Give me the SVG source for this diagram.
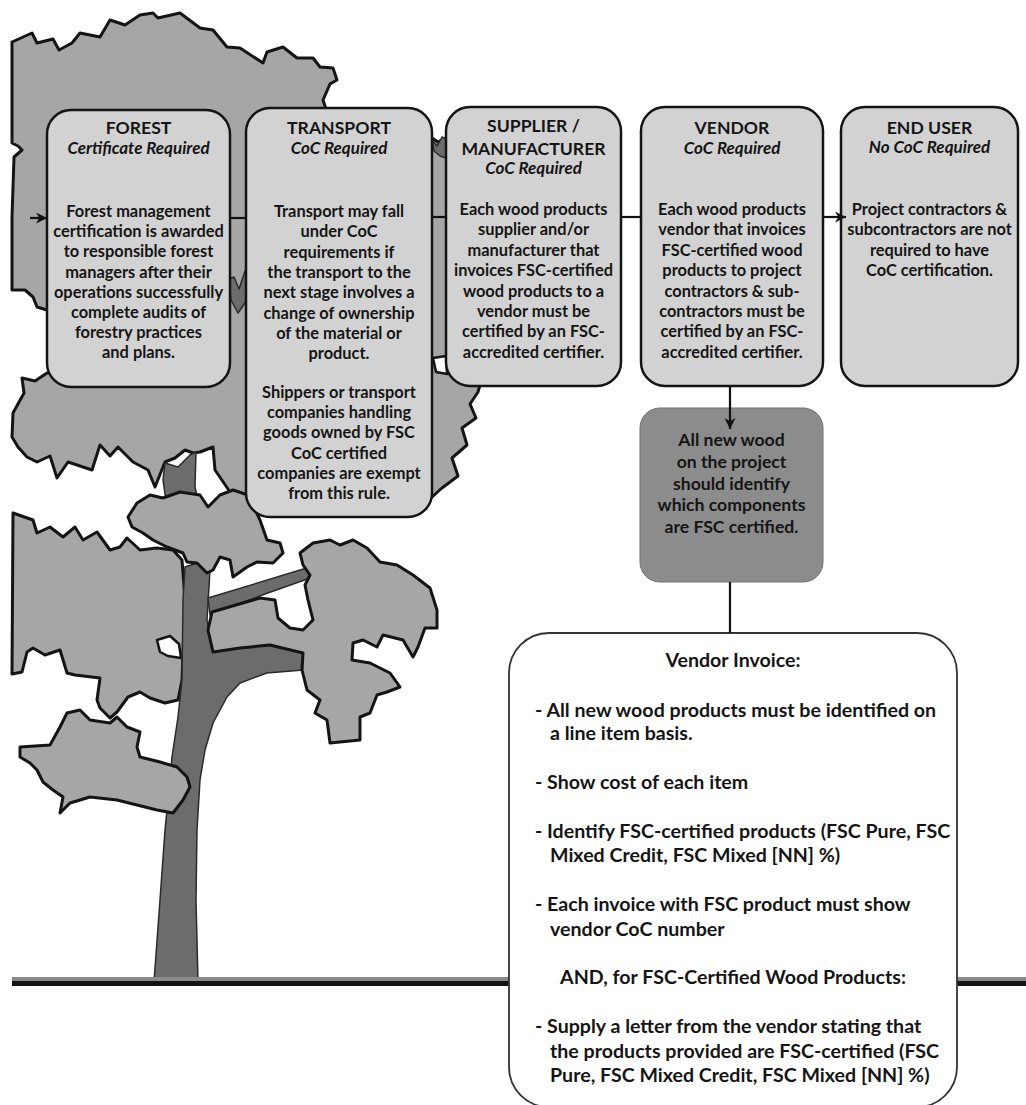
<svg xmlns="http://www.w3.org/2000/svg" width="1026" height="1105" viewBox="0 0 1026 1105">
  <defs>
    <style>
      .crown{fill:#a6a6a6;stroke:#141414;stroke-width:3;stroke-linejoin:round}
      .wood{fill:#6c6c6c;stroke:#2a2a2a;stroke-width:1.5;stroke-linejoin:round}
      .hole{fill:#fff;stroke:#141414;stroke-width:2.5;stroke-linejoin:round}
      .card{fill:#d2d2d2;stroke:#141414;stroke-width:2.5}
      .note{fill:#8c8c8c;stroke:#707070;stroke-width:1}
      .invoice{fill:#fff;stroke:#333;stroke-width:1.8}
      .conn{stroke:#111;stroke-width:2.2;fill:none}
      text{font-family:Lato,"Liberation Sans",sans-serif;font-weight:700;fill:#151515}
      .c{text-anchor:middle}
      .ttl{font-size:17.6px}
      .sub{font-size:17px;font-style:italic}
      .bd{font-size:16.4px}
      .gb{font-size:17.6px}
      .inv{font-size:19.6px}
    </style>
    <marker id="head" viewBox="0 0 10 10" refX="10" refY="5" markerWidth="11" markerHeight="11" markerUnits="userSpaceOnUse" orient="auto">
      <path d="M0,0 L10,5 L0,10 L3,5 z" fill="#111"/>
    </marker>
  </defs>

  <!-- tree scenery -->
  <g id="tree">
    <!-- upper crown -->
    <polygon class="crown" points="12,42 32,33 37,43 53,39 59,50 72,43 80,33 100,37 110,20 125,25 140,15 153,13 158,18 180,13 200,28 213,30 227,47 240,48 263,63 267,52 283,47 297,58 313,58 320,67 333,68 337,80 330,84 323,100 327,112 400,130 432,138 438,142 446,138 480,150 520,200 500,300 480,385 478,392 470,404 476,418 462,428 467,445 452,458 458,476 442,488 432,497 380,505 300,508 246,500 230,492 215,470 213,447 200,452 193,453 185,450 175,458 165,462 155,487 148,470 133,462 118,447 110,456 100,445 92,470 80,466 68,462 57,478 50,456 37,462 27,457 18,447 12,437 13,413 24,393 22,378 35,381 47,373 60,372 60,312 47,310 37,307 33,297 25,290 12,290 12,217 14,157 22,150 18,146 12,143"/>
    <polygon class="hole" points="433,358 446,356 447,374 436,372"/>
    <!-- branch fragments inside crown -->
    <polygon class="wood" points="229,279 234,277 239,289 245,271 248,276 247,300 238,313 231,300"/>
    <polygon class="wood" points="432,140 437,146 442,137 447,139 446,158 440,156 434,151"/>
    <polygon class="wood" points="165,463 178,467 190,455 196,452 195,487 200,510 187,507 167,508 163,480"/>
    <!-- left foliage -->
    <polygon class="crown" points="13,513 33,520 37,533 50,527 63,537 75,527 83,540 97,532 110,550 120,547 127,538 140,550 157,548 173,550 182,560 185,600 182,680 178,700 165,703 150,698 140,692 128,697 117,712 110,718 100,708 97,700 100,678 75,675 67,673 60,650 45,655 33,648 27,652 22,672 12,674"/>
    <polygon class="hole" points="157,640 170,636 179,644 181,658 168,656 160,652"/>
    <!-- trunk and limbs -->
    <polygon class="wood" points="154,982 160,900 165,830 168,800 172,757 178,717 182,680 183,600 185,567 200,562 210,570 207,620 213,652 240,647 270,643 303,653 303,670 267,673 240,683 227,697 213,723 205,750 200,780 197,830 196,900 198,982"/>
    <polygon class="wood" points="208,598 310,567 313,577 265,594 210,615"/>
    <!-- lower-left foliage -->
    <polygon class="crown" points="20,747 50,745 60,727 67,713 80,710 90,720 110,723 117,717 127,727 140,732 137,747 140,757 160,762 177,767 187,777 190,787 183,800 173,813 157,810 117,800 90,797 70,803 60,813 63,797 53,790 43,782 37,770 30,763 20,757"/>
    <!-- middle foliage -->
    <polygon class="crown" points="128,517 137,503 150,495 163,498 180,492 200,495 208,507 220,495 233,490 248,495 260,520 267,540 280,543 283,553 273,563 257,562 247,567 233,577 230,560 220,557 213,570 207,573 197,563 187,562 183,553 167,547 153,540 143,533 132,527"/>
    <!-- right foliage -->
    <polygon class="crown" points="300,553 313,543 330,540 340,545 353,540 367,548 380,562 397,565 413,575 430,588 437,610 437,628 425,628 418,647 413,657 403,640 383,635 377,647 363,640 353,643 352,660 370,663 390,673 400,687 387,692 377,695 370,713 360,717 360,740 330,743 327,720 315,713 320,700 307,690 302,670 303,653 270,645 240,648 213,652 208,630 212,612 260,598 275,600 278,618 290,628 303,630 313,620 308,600 305,585 310,575 303,565"/>
    <!-- ground -->
    <rect x="12" y="977" width="1014" height="4" fill="#8a8a8a"/>
    <rect x="12" y="981" width="1014" height="5" fill="#141414"/>
  </g>

  <!-- stage cards -->
  <g id="forest">
    <rect class="card" x="47" y="110" width="183" height="277" rx="24"/>
    <text class="c ttl" x="138.5" y="134">FOREST</text>
    <text class="c sub" x="138.5" y="154">Certificate Required</text>
    <text class="c bd" x="138.5" y="217">Forest management</text>
    <text class="c bd" x="138.5" y="237.2">certification is awarded</text>
    <text class="c bd" x="138.5" y="257.4">to responsible forest</text>
    <text class="c bd" x="138.5" y="277.6">managers after their</text>
    <text class="c bd" x="138.5" y="297.8">operations successfully</text>
    <text class="c bd" x="138.5" y="318">complete audits of</text>
    <text class="c bd" x="138.5" y="338.2">forestry practices</text>
    <text class="c bd" x="138.5" y="358.4">and plans.</text>
  </g>

  <g id="transport">
    <rect class="card" x="246" y="108" width="186" height="409" rx="24"/>
    <text class="c ttl" x="339" y="134">TRANSPORT</text>
    <text class="c sub" x="339" y="154">CoC Required</text>
    <text class="c bd" x="339" y="217">Transport may fall</text>
    <text class="c bd" x="339" y="237.3">under CoC</text>
    <text class="c bd" x="339" y="257.6">requirements if</text>
    <text class="c bd" x="339" y="277.9">the transport to the</text>
    <text class="c bd" x="339" y="298.2">next stage involves a</text>
    <text class="c bd" x="339" y="318.5">change of ownership</text>
    <text class="c bd" x="339" y="338.8">of the material or</text>
    <text class="c bd" x="339" y="359.1">product.</text>
    <text class="c bd" x="339" y="398">Shippers or transport</text>
    <text class="c bd" x="339" y="418.2">companies handling</text>
    <text class="c bd" x="339" y="438.4">goods owned by FSC</text>
    <text class="c bd" x="339" y="458.6">CoC certified</text>
    <text class="c bd" x="339" y="478.8">companies are exempt</text>
    <text class="c bd" x="339" y="499">from this rule.</text>
  </g>

  <g id="supplier">
    <rect class="card" x="446" y="107" width="175" height="279" rx="24"/>
    <text class="c ttl" x="533.5" y="132">SUPPLIER /</text>
    <text class="c ttl" x="533.5" y="155">MANUFACTURER</text>
    <text class="c sub" x="533.5" y="174">CoC Required</text>
    <text class="c bd" x="533.5" y="215">Each wood products</text>
    <text class="c bd" x="533.5" y="235.4">supplier and/or</text>
    <text class="c bd" x="533.5" y="255.8">manufacturer that</text>
    <text class="c bd" x="533.5" y="276.2">invoices FSC-certified</text>
    <text class="c bd" x="533.5" y="296.6">wood products to a</text>
    <text class="c bd" x="533.5" y="317">vendor must be</text>
    <text class="c bd" x="533.5" y="337.4">certified by an FSC-</text>
    <text class="c bd" x="533.5" y="357.8">accredited certifier.</text>
  </g>

  <g id="vendor">
    <rect class="card" x="641" y="107" width="182" height="279" rx="24"/>
    <text class="c ttl" x="732" y="134">VENDOR</text>
    <text class="c sub" x="732" y="154">CoC Required</text>
    <text class="c bd" x="732" y="215">Each wood products</text>
    <text class="c bd" x="732" y="235.4">vendor that invoices</text>
    <text class="c bd" x="732" y="255.8">FSC-certified wood</text>
    <text class="c bd" x="732" y="276.2">products to project</text>
    <text class="c bd" x="732" y="296.6">contractors &amp; sub-</text>
    <text class="c bd" x="732" y="317">contractors must be</text>
    <text class="c bd" x="732" y="337.4">certified by an FSC-</text>
    <text class="c bd" x="732" y="357.8">accredited certifier.</text>
  </g>

  <g id="end-user">
    <rect class="card" x="841" y="107" width="177" height="279" rx="24"/>
    <text class="c ttl" x="929.5" y="134">END USER</text>
    <text class="c sub" x="929.5" y="153">No CoC Required</text>
    <text class="c bd" x="929.5" y="215">Project contractors &amp;</text>
    <text class="c bd" x="929.5" y="235.4">subcontractors are not</text>
    <text class="c bd" x="929.5" y="255.8">required to have</text>
    <text class="c bd" x="929.5" y="276.2">CoC certification.</text>
  </g>

  <g id="identify-note">
    <rect class="note" x="640" y="408" width="183" height="174" rx="20"/>
    <text class="c gb" x="731.5" y="446">All new wood</text>
    <text class="c gb" x="731.5" y="467.8">on the project</text>
    <text class="c gb" x="731.5" y="489.6">should identify</text>
    <text class="c gb" x="731.5" y="511.4">which components</text>
    <text class="c gb" x="731.5" y="533.2">are FSC certified.</text>
  </g>

  <g id="vendor-invoice">
    <rect class="invoice" x="509" y="633" width="448" height="474" rx="40"/>
    <text class="c inv" x="733" y="667">Vendor Invoice:</text>
    <text class="inv" x="535" y="717">- All new wood products must be identified on</text>
    <text class="inv" x="550" y="740">a line item basis.</text>
    <text class="inv" x="535" y="789">- Show cost of each item</text>
    <text class="inv" x="535" y="838">- Identify FSC-certified products (FSC Pure, FSC</text>
    <text class="inv" x="550" y="862">Mixed Credit, FSC Mixed [NN] %)</text>
    <text class="inv" x="535" y="911">- Each invoice with FSC product must show</text>
    <text class="inv" x="550" y="936">vendor CoC number</text>
    <text class="c inv" x="733" y="984">AND, for FSC-Certified Wood Products:</text>
    <text class="inv" x="535" y="1033">- Supply a letter from the vendor stating that</text>
    <text class="inv" x="550" y="1058">the products provided are FSC-certified (FSC</text>
    <text class="inv" x="550" y="1082">Pure, FSC Mixed Credit, FSC Mixed [NN] %)</text>
  </g>

  <!-- flow connectors -->
  <g id="connectors">
    <line class="conn" x1="30" y1="218" x2="47" y2="218" marker-end="url(#head)"/>
    <line class="conn" x1="230" y1="218" x2="246" y2="218"/>
    <line class="conn" x1="432" y1="217" x2="446" y2="217"/>
    <line class="conn" x1="621" y1="217" x2="641" y2="217"/>
    <line class="conn" x1="823" y1="217" x2="846" y2="217" marker-end="url(#head)"/>
    <line class="conn" x1="730" y1="386" x2="730" y2="429" marker-end="url(#head)"/>
    <line class="conn" x1="730" y1="582" x2="730" y2="633"/>
  </g>
</svg>
